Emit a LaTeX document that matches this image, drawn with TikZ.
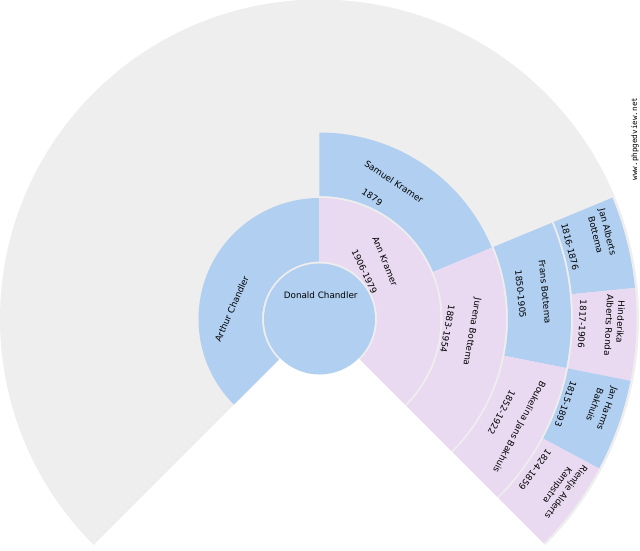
\documentclass[tikz,border=0pt]{standalone}
\usepackage{fontspec}
\setmainfont{DejaVu Sans}
\newfontfamily\sitefont{DejaVu Sans Mono}
\definecolor{fanbg}{HTML}{EEEEEE}
\definecolor{male}{HTML}{B1CFF0}
\definecolor{female}{HTML}{E9DAF1}
\tikzset{
  lbl/.style={font=\fontsize{8.8}{10}\selectfont, inner sep=0pt
  },
  sitelbl/.style={font=\sitefont\fontsize{7.6}{9}\selectfont, inner sep=0pt
  }
}

\begin{document}
\begin{tikzpicture}[x=1pt, y=1pt]
   \useasboundingbox (-319.5,-231) rectangle (320.5,319);

   % background fan and root
   \fill[fanbg] (0,0) -- (-45:319.5pt) arc[start angle=-45, end angle=225, radius=319.5pt] -- cycle;
   \fill[male] (0,0) circle[radius=55.5pt];

   % generation 1
   \fill[male] (90:57.5pt) arc[start angle=90, end angle=225, radius=57.5pt]
      -- (225:121pt) arc[start angle=225, end angle=90, radius=121pt] -- cycle;
   \fill[female] (-45:57.5pt) arc[start angle=-45, end angle=90, radius=57.5pt]
      -- (90:121pt) arc[start angle=90, end angle=-45, radius=121pt] -- cycle;

   % generation 2
   \fill[male] (22.5:123pt) arc[start angle=22.5, end angle=90, radius=123pt]
      -- (90:186.5pt) arc[start angle=90, end angle=22.5, radius=186.5pt] -- cycle;
   \fill[female] (-45:123pt) arc[start angle=-45, end angle=22.5, radius=123pt]
      -- (22.5:186.5pt) arc[start angle=22.5, end angle=-45, radius=186.5pt] -- cycle;

   % generation 3
   \fill[male] (-11.25:188.5pt) arc[start angle=-11.25, end angle=22.5, radius=188.5pt]
      -- (22.5:251.5pt) arc[start angle=22.5, end angle=-11.25, radius=251.5pt] -- cycle;
   \fill[female] (-45:188.5pt) arc[start angle=-45, end angle=-11.25, radius=188.5pt]
      -- (-11.25:251.5pt) arc[start angle=-11.25, end angle=-45, radius=251.5pt] -- cycle;

   % generation 4
   \fill[male] (5.625:253.5pt) arc[start angle=5.625, end angle=22.5, radius=253.5pt]
      -- (22.5:317pt) arc[start angle=22.5, end angle=5.625, radius=317pt] -- cycle;
   \fill[female] (-11.25:253.5pt) arc[start angle=-11.25, end angle=5.625, radius=253.5pt]
      -- (5.625:317pt) arc[start angle=5.625, end angle=-11.25, radius=317pt] -- cycle;
   \fill[male] (-28.125:253.5pt) arc[start angle=-28.125, end angle=-11.25, radius=253.5pt]
      -- (-11.25:317pt) arc[start angle=-11.25, end angle=-28.125, radius=317pt] -- cycle;
   \fill[female] (-45:253.5pt) arc[start angle=-45, end angle=-28.125, radius=253.5pt]
      -- (-28.125:317pt) arc[start angle=-28.125, end angle=-45, radius=317pt] -- cycle;

   % names and dates
   \node[lbl] (donald) at (1.2,23.3) {Donald Chandler};
   \node[lbl, rotate=66] (arthur) at (-87.8,10) {Arthur Chandler};
   \node[lbl, rotate=-67.5] (ann) at (65.5,58) {Ann Kramer};
   \node[lbl, rotate=-65] (anndates) at (45,47.5) {1906-1979};
   \node[lbl, rotate=-33.75] (samuel) at (74.5,137.3) {Samuel Kramer};
   \node[lbl, rotate=-33.75] (samueldates) at (52.8,121.7) {1879};
   \node[lbl, rotate=-100] (jurena) at (152.2,-12.7) {Jurena Bottema};
   \node[lbl, rotate=-100] (jurenadates) at (128,-10) {1883-1954};
   \node[lbl, rotate=-84.4] (frans) at (225.5,27.3) {Frans Bottema};
   \node[lbl, rotate=-84.4] (fransdates) at (201.2,25) {1850-1905};
   \node[lbl, rotate=-118.1] (boukelina) at (199.5,-107.7) {Boukelina Jans Bakhuis};
   \node[lbl, rotate=-118.1] (boukelinadates) at (182.2,-93.3) {1852-1922};
   \node[lbl, rotate=-75.9] (janalbertsa) at (287.5,87) {Jan Alberts};
   \node[lbl, rotate=-75.9] (janalbertsb) at (276.2,84) {Bottema};
   \node[lbl, rotate=-75.9] (janalbertsdates) at (250.5,72.3) {1816-1876};
   \node[lbl, rotate=-92.8] (hinderikaa) at (301.2,-3) {Hinderika};
   \node[lbl, rotate=-92.8] (hinderikab) at (289.5,-6) {Alberts Ronda};
   \node[lbl, rotate=-92.8] (hinderikadates) at (262.8,-5) {1817-1906};
   \node[lbl, rotate=-109.7] (janharmsa) at (287.2,-89.3) {Jan Harms};
   \node[lbl, rotate=-109.7] (janharmsb) at (275.5,-86) {Bakhuis};
   \node[lbl, rotate=-109.7] (janharmsdates) at (246.2,-85) {1815-1893};
   \node[lbl, rotate=-126.6] (rientjea) at (246.2,-172.7) {Rientje Alderts};
   \node[lbl, rotate=-126.6] (rientjeb) at (237.5,-166) {Kampstra};
   \node[lbl, rotate=-126.6] (rientjedates) at (215.5,-151) {1824-1859};

   \node[sitelbl, rotate=90] (site) at (315.5,180) {www.phpgedview.net};
\end{tikzpicture}
\end{document}
